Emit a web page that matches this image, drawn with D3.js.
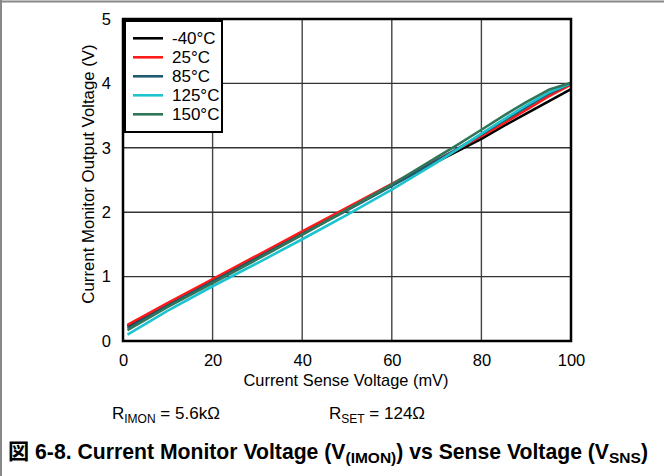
<!DOCTYPE html>
<html>
<head>
<meta charset="utf-8">
<script src="https://cdn.jsdelivr.net/npm/d3@7"></script>
<style>
  html, body { margin: 0; padding: 0; background: #fff; }
  svg { display: block; font-family: "Liberation Sans", Arial, sans-serif; }
</style>
</head>
<body>
<svg id="chart" width="664" height="476"></svg>
<script>
// Current sense voltage (mV) sample points
const senseMv = [1, 10, 20, 30, 40, 50, 60, 70, 75, 80, 85, 90, 95, 100];

// IMON output voltage (V) per temperature
const vMinus40 = [0.23, 0.57, 0.94, 1.31, 1.68, 2.05, 2.42, 2.78, 2.96, 3.14, 3.34, 3.53, 3.72, 3.91];
const v25      = [0.25, 0.59, 0.96, 1.33, 1.70, 2.07, 2.44, 2.81, 2.99, 3.18, 3.38, 3.59, 3.80, 3.98];
const v85      = [0.20, 0.55, 0.92, 1.29, 1.66, 2.03, 2.41, 2.80, 3.00, 3.21, 3.42, 3.63, 3.84, 4.00];
const v125     = [0.10, 0.47, 0.85, 1.21, 1.58, 1.96, 2.35, 2.77, 2.99, 3.22, 3.44, 3.66, 3.86, 4.00];
const v150     = [0.17, 0.53, 0.90, 1.27, 1.65, 2.04, 2.43, 2.85, 3.06, 3.28, 3.50, 3.71, 3.90, 4.01];

const seriesNames  = ["-40°C", "25°C", "85°C", "125°C", "150°C"];
const seriesValues = [vMinus40, v25, v85, v125, v150];
const seriesColors = ["#000000", "#ff1a1a", "#1f5a70", "#1cc3d0", "#2f7558"];

const xTicks = [0, 20, 40, 60, 80, 100];
const yTicks = [0, 1, 2, 3, 4, 5];

const svg = d3.select("#chart");

// outer figure frame (top and left edges)
svg.append("line").attr("x1", 0).attr("x2", 664).attr("y1", 1.5).attr("y2", 1.5)
  .attr("stroke", "#888").attr("stroke-width", 2);
svg.append("line").attr("x1", 1).attr("x2", 1).attr("y1", 0).attr("y2", 476)
  .attr("stroke", "#888").attr("stroke-width", 2);

const plot = { left: 123, right: 571, top: 19, bottom: 341 };
const x = d3.scaleLinear().domain([0, 100]).range([plot.left, plot.right]);
const y = d3.scaleLinear().domain([0, 5]).range([plot.bottom, plot.top]);

// grid
const grid = svg.append("g");
grid.selectAll("line.vx").data(xTicks.slice(1, -1)).join("line")
  .attr("x1", d => x(d)).attr("x2", d => x(d))
  .attr("y1", plot.top).attr("y2", plot.bottom)
  .attr("stroke", "#444").attr("stroke-width", 1.4);
grid.selectAll("line.hy").data(yTicks.slice(1, -1)).join("line")
  .attr("x1", plot.left).attr("x2", plot.right)
  .attr("y1", d => y(d)).attr("y2", d => y(d))
  .attr("stroke", "#333").attr("stroke-width", 1.4);

// series lines
const line = d3.line()
  .x((d, i) => x(senseMv[i]))
  .y(d => y(d));
svg.append("g").selectAll("path").data(seriesValues).join("path")
  .attr("d", d => line(d))
  .attr("fill", "none")
  .attr("stroke", (d, i) => seriesColors[i])
  .attr("stroke-width", 2.6)
  .attr("stroke-linejoin", "round");

// plot frame
svg.append("rect")
  .attr("x", plot.left).attr("y", plot.top)
  .attr("width", plot.right - plot.left).attr("height", plot.bottom - plot.top)
  .attr("fill", "none").attr("stroke", "#000").attr("stroke-width", 2.5);

// axes (labels only; frame drawn above)
const xAxis = d3.axisBottom(x).tickValues(xTicks).tickFormat(d3.format("d")).tickSize(0).tickPadding(13);
const yAxis = d3.axisLeft(y).tickValues(yTicks).tickFormat(d3.format("d")).tickSize(0).tickPadding(12);
const gx = svg.append("g").attr("transform", `translate(0,${plot.bottom})`).call(xAxis);
const gy = svg.append("g").attr("transform", `translate(${plot.left},0)`).call(yAxis);
[gx, gy].forEach(g => {
  g.select(".domain").remove();
  g.selectAll("text").attr("font-size", 16.5).attr("fill", "#000")
    .attr("font-family", "Liberation Sans, Arial, sans-serif");
});

// axis titles
svg.append("text")
  .attr("x", (plot.left + plot.right) / 2 - 1).attr("y", 386)
  .attr("text-anchor", "middle").attr("font-size", 16.4).text("Current Sense Voltage (mV)");
svg.append("text")
  .attr("transform", `translate(94,${(plot.top + plot.bottom) / 2 - 6}) rotate(-90)`)
  .attr("text-anchor", "middle").attr("font-size", 16.8).text("Current Monitor Output Voltage (V)");

// legend
const legend = svg.append("g").attr("transform", "translate(125,21)");
legend.append("rect").attr("x", 0).attr("y", 0).attr("width", 97).attr("height", 111)
  .attr("fill", "#fff").attr("stroke", "#000").attr("stroke-width", 2);
seriesNames.forEach((name, i) => {
  const ly = 17.3 + i * 19;
  legend.append("line").attr("x1", 8).attr("x2", 38).attr("y1", ly).attr("y2", ly)
    .attr("stroke", seriesColors[i]).attr("stroke-width", 2.6);
  legend.append("text").attr("x", 47).attr("y", ly + 6)
    .attr("font-size", 17).text(name);
});

// conditions line
const cond = svg.append("text").attr("y", 419).attr("font-size", 17);
cond.append("tspan").attr("x", 112).text("R");
cond.append("tspan").attr("dy", 4).attr("font-size", 12).text("IMON");
cond.append("tspan").attr("dy", -4).text(" = 5.6kΩ");
const cond2 = svg.append("text").attr("y", 419).attr("font-size", 17);
cond2.append("tspan").attr("x", 329).text("R");
cond2.append("tspan").attr("dy", 4).attr("font-size", 12).text("SET");
cond2.append("tspan").attr("dy", -4).text(" = 124Ω");

// figure caption
const cap = svg.append("text").attr("x", 8).attr("y", 459)
  .attr("font-size", 21.2).attr("font-weight", "bold");
cap.append("tspan").attr("font-family", "'Noto Sans CJK JP', sans-serif").text("図");
cap.append("tspan").text(" 6-8. Current Monitor Voltage (V");
cap.append("tspan").attr("dy", 4).attr("font-size", 15.5).text("(IMON)");
cap.append("tspan").attr("dy", -4).text(") vs Sense Voltage (V");
cap.append("tspan").attr("dy", 4).attr("font-size", 15.5).text("SNS");
cap.append("tspan").attr("dy", -4).text(")");
</script>
</body>
</html>
